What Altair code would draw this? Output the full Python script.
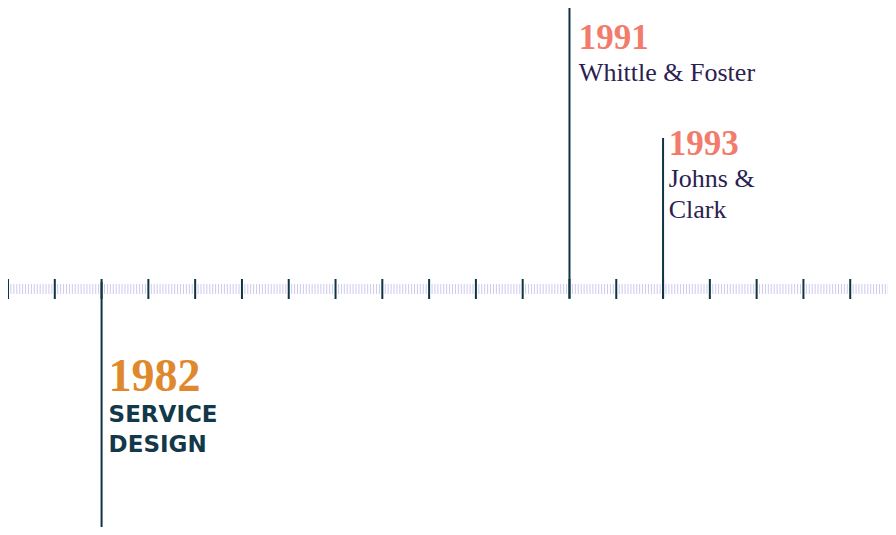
import altair as alt
import pandas as pd
import numpy as np

# ---- data ----
years = ["1982", "1991", "1993"]
descriptions = ["SERVICE\nDESIGN", "Whittle & Foster", "Johns &\nClark"]
tick_slot = [2, 12, 14]          # major tick on which each event sits
year_colors = ["#e0892c", "#f27b6b", "#f27b6b"]
year_sizes = [46, 35, 35]

# layout of the stems / labels (units: px relative to the axis line)
stem_from = [7, -9, -9]
stem_to = [-246, 282, 151]
year_y = [-102, 240, 134]
desc_y = [-133, 208, 102]
label_dx = [0.15, 0.2, 0.12]

n_major = 19
minor_per_major = 16

W, H = 880, 519
X_DOMAIN = [0, W / 46.79]
Y_DOMAIN = [-238, 281]

events = pd.DataFrame({
    "year": years,
    "desc": descriptions,
    "slot": tick_slot,
    "ycol": year_colors,
    "ysize": year_sizes,
    "s0": stem_from,
    "s1": stem_to,
    "yy": year_y,
    "dy": desc_y,
    "lx": [s + d for s, d in zip(tick_slot, label_dx)],
})

majors = pd.DataFrame({"u": np.arange(0, n_major + 1)})
minors = pd.DataFrame({"u": np.arange(0, X_DOMAIN[1] + 0.01, 1.0 / minor_per_major)})

xs = alt.Scale(domain=X_DOMAIN, nice=False, zero=False)
ys = alt.Scale(domain=Y_DOMAIN, nice=False, zero=False)


def X(f):
    return alt.X(f, scale=xs, axis=None)


def Y(f):
    return alt.Y(f, scale=ys, axis=None)


minor_layer = alt.Chart(minors).mark_rule(color="#cdcaee", strokeWidth=1).encode(
    x=X("u:Q"), y=Y("a:Q"), y2="b:Q"
).transform_calculate(a="-5", b="5")

major_layer = alt.Chart(majors).mark_rule(color="#0f3443", strokeWidth=2).encode(
    x=X("u:Q"), y=Y("a:Q"), y2="b:Q"
).transform_calculate(a="-10", b="10")

stem_layer = alt.Chart(events).mark_rule(color="#0f3443", strokeWidth=2).encode(
    x=X("slot:Q"), y=Y("s0:Q"), y2="s1:Q"
)

year_layer = alt.Chart(events).mark_text(
    align="left", baseline="alphabetic", font="Liberation Serif", fontWeight="bold"
).encode(
    x=X("lx:Q"), y=Y("yy:Q"), text="year:N",
    color=alt.Color("ycol:N", scale=None), size=alt.Size("ysize:Q", scale=None),
)

desc_serif = alt.Chart(events).transform_filter("datum.year != '1982'").transform_calculate(
    lines="split(datum.desc, '\\n')"
).mark_text(
    align="left", baseline="alphabetic", font="Liberation Serif", fontSize=26,
    color="#2b2150", lineHeight=31,
).encode(x=X("lx:Q"), y=Y("dy:Q"), text="lines:N")

desc_sans = alt.Chart(events).transform_filter("datum.year == '1982'").transform_calculate(
    lines="split(datum.desc, '\\n')"
).mark_text(
    align="left", baseline="alphabetic", font="DejaVu Sans", fontWeight="bold", fontSize=23,
    color="#12384a", lineHeight=30,
).encode(x=X("lx:Q"), y=Y("dy:Q"), text="lines:N")

chart = alt.layer(minor_layer, major_layer, stem_layer, year_layer, desc_serif, desc_sans).properties(
    width=W, height=H, padding=0, autosize=alt.AutoSizeParams(type="none")
).configure_view(stroke=None)

chart.save("out.html", embed_options={"renderer": "svg", "actions": False})
